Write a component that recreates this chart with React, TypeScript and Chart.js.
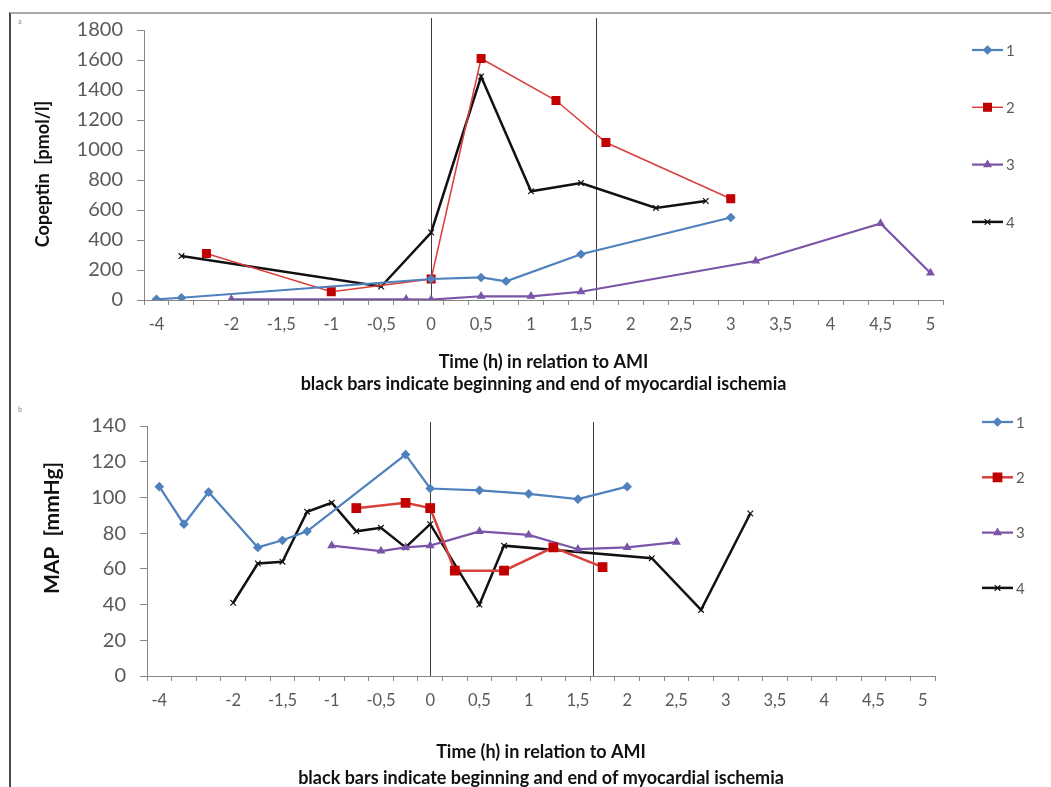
import React, { useEffect, useRef } from 'react';
import { Chart, registerables } from 'chart.js';
import { drawPoint } from 'chart.js/helpers';

Chart.register(...registerables);
Chart.defaults.font.family = "Lato, 'Open Sans', sans-serif";

const _ = null;

// Category axis (Excel-style): one category per time point, only some labelled
const timeLabels = ['-4', '', '', '-2', '', '-1,5', '', '-1', '', '-0,5', '', '0', '', '0,5', '', '1', '', '1,5', '', '2', '', '2,5', '', '3', '', '3,5', '', '4', '', '4,5', '', '5'];

const seriesNames = ['1', '2', '3', '4'];

// a: Copeptin [pmol/l]
const copeptin1 = [5, 15, _, _, _, _, _, _, _, _, _, 140, _, 150, 125, _, _, 305, _, _, _, _, _, 550, _, _, _, _, _, _, _, _];
const copeptin2 = [_, _, 310, _, _, _, _, 55, _, _, _, 140, _, 1610, _, _, 1330, _, 1050, _, _, _, _, 675, _, _, _, _, _, _, _, _];
const copeptin3 = [_, _, _, 5, _, _, _, _, _, _, 5, 3, _, 25, _, 25, _, 55, _, _, _, _, _, _, 260, _, _, _, _, 510, _, 180];
const copeptin4 = [_, 293, _, _, _, _, _, _, _, 90, _, 450, _, 1490, _, 725, _, 780, _, _, 613, _, 660, _, _, _, _, _, _, _, _, _];

// b: MAP [mmHg]
const map1 = [106, 85, 103, _, 72, 76, 81, _, _, _, 124, 105, _, 104, _, 102, _, 99, _, 106, _, _, _, _, _, _, _, _, _, _, _, _];
const map2 = [_, _, _, _, _, _, _, _, 94, _, 97, 94, 59, _, 59, _, 72, _, 61, _, _, _, _, _, _, _, _, _, _, _, _, _];
const map3 = [_, _, _, _, _, _, _, 73, _, 70, 72, 73, _, 81, _, 79, _, 71, _, 72, _, 75, _, _, _, _, _, _, _, _, _, _];
const map4 = [_, _, _, 41, 63, 64, 92, 97, 81, 83, 72, 85, _, 40, 73, _, _, _, _, _, 66, _, 37, _, 91, _, _, _, _, _, _, _];

// beginning and end of myocardial ischemia, as positions on the category axis
const ischemiaBars = [11, 17.6];

const copeptinTicks = { min: 0, max: 1800, step: 200 };
const mapTicks = { min: 0, max: 140, step: 20 };

const xTitle = ['Time (h) in relation to AMI', 'black bars indicate beginning and end of myocardial ischemia'];

const seriesStyles = [
  { color: '#4F81BD', pointColor: '#4F81BD', pointStyle: 'rectRot', radius: 4 },
  { color: '#D9403C', pointColor: '#C00000', pointStyle: 'rect', radius: 5.5 },
  { color: '#7B55A8', pointColor: '#7B55A8', pointStyle: 'triangle', radius: 4 },
  { color: '#111111', pointColor: '#111111', pointStyle: 'crossRot', radius: 4 },
];

const FONT = "Lato, 'Open Sans', sans-serif";

const overlayPlugin = {
  id: 'overlay',
  beforeDatasetsDraw(chart: any, _args: any, opts: any) {
    const { ctx, chartArea } = chart;
    const xs = chart.scales.x;
    ctx.save();
    ctx.strokeStyle = '#3c3c3c';
    ctx.lineWidth = 1;
    for (const pos of opts.bars || []) {
      const px = Math.round(xs.getPixelForValue(pos)) + 0.5;
      ctx.beginPath();
      ctx.moveTo(px, chartArea.top - opts.barOverhang);
      ctx.lineTo(px, chartArea.bottom);
      ctx.stroke();
    }
    ctx.restore();
  },
  afterDraw(chart: any, _args: any, opts: any) {
    const { ctx } = chart;
    // y-axis title
    const t = opts.yTitle;
    ctx.save();
    ctx.translate(t.x, t.y);
    ctx.rotate(-Math.PI / 2);
    ctx.fillStyle = '#111';
    ctx.font = `bold ${t.size}px ${FONT}`;
    ctx.textAlign = 'center';
    ctx.textBaseline = 'middle';
    ctx.fillText(t.text, 0, 0);
    ctx.restore();
    // legend
    chart.data.datasets.forEach((ds: any, i: number) => {
      const y = opts.legendTop + i * opts.legendGap;
      const x0 = opts.legendX;
      ctx.save();
      ctx.strokeStyle = ds.borderColor;
      ctx.lineWidth = ds.borderWidth;
      ctx.beginPath();
      ctx.moveTo(x0, y);
      ctx.lineTo(x0 + 31, y);
      ctx.stroke();
      ctx.fillStyle = ds.pointBackgroundColor;
      ctx.strokeStyle = ds.pointBorderColor;
      ctx.lineWidth = 1.2;
      drawPoint(ctx, { pointStyle: ds.pointStyle, radius: ds.pointRadius, rotation: 0, borderWidth: 1.2 } as any, x0 + 15.5, y);
      ctx.fillStyle = '#595959';
      ctx.font = `15px ${FONT}`;
      ctx.textBaseline = 'middle';
      ctx.textAlign = 'left';
      ctx.fillText(ds.label, x0 + 34, y + 1);
      ctx.restore();
    });
  },
};

type PanelProps = {
  series: (number | null)[][];
  ticks: { min: number; max: number; step: number };
  yTitle: { text: string; x: number; y: number; size: number };
  lineWidths: number[];
  radiusScale: number[];
  pad: { left: number; right: number; top: number; bottom: number };
  yWidth: number;
  xHeight: number;
  titleLineHeight: number;
  barOverhang: number;
  legendX: number;
  legendTop: number;
  legendGap: number;
};

function Panel(p: PanelProps) {
  const ref = useRef<HTMLCanvasElement | null>(null);
  useEffect(() => {
    if (!ref.current) return;
    const datasets = p.series.map((data, i) => {
      const st = seriesStyles[i];
      return {
        label: seriesNames[i],
        data,
        borderColor: st.color,
        backgroundColor: st.color,
        borderWidth: p.lineWidths[i],
        pointStyle: st.pointStyle,
        pointRadius: st.radius * p.radiusScale[i],
        pointBackgroundColor: st.pointColor,
        pointBorderColor: st.pointColor,
        pointBorderWidth: 1.2,
        spanGaps: true,
        tension: 0,
        fill: false,
      };
    });
    const chart = new Chart(ref.current, {
      type: 'line',
      data: { labels: timeLabels, datasets },
      plugins: [overlayPlugin],
      options: {
        responsive: false,
        animation: false,
        events: [],
        layout: { padding: p.pad },
        plugins: {
          legend: { display: false },
          tooltip: { enabled: false },
          overlay: { bars: ischemiaBars, barOverhang: p.barOverhang, legendX: p.legendX, legendTop: p.legendTop, legendGap: p.legendGap, yTitle: p.yTitle },
        } as any,
        scales: {
          x: {
            type: 'category',
            offset: true,
            grid: { offset: true, drawOnChartArea: false, drawTicks: true, tickLength: 5, color: '#868686' },
            border: { display: true, color: '#868686', width: 1 },
            ticks: { autoSkip: false, maxRotation: 0, minRotation: 0, padding: 10, color: '#595959', font: { size: 16.5 } },
            title: {
              display: true,
              text: xTitle,
              color: '#111',
              font: { size: 18, weight: 'bold', lineHeight: p.titleLineHeight / 18 },
              padding: { top: 0, bottom: 0 },
            },
            afterFit: (s: any) => { s.height = p.xHeight; },
          },
          y: {
            min: p.ticks.min,
            max: p.ticks.max,
            grid: { drawOnChartArea: false, drawTicks: true, tickLength: 7, color: '#868686' },
            border: { display: true, color: '#868686', width: 1 },
            ticks: { stepSize: p.ticks.step, padding: 14, color: '#595959', font: { size: 20 }, callback: (v: any) => String(v) },
            title: { display: false },
            afterFit: (s: any) => { s.width = p.yWidth; },
          },
        },
      } as any,
    });
    return () => chart.destroy();
  }, []);
  return <canvas ref={ref} width={1051} height={400} style={{ display: 'block', width: 1051, height: 400 }} />;
}

export default function App() {
  return (
    <div style={{ position: 'absolute', left: 0, top: 0, width: 1051, height: 787, overflow: 'hidden', background: '#fff' }}>
      <div style={{ position: 'absolute', left: 9, top: 12, right: -10, bottom: -10, borderTop: '2px solid #a8a8a8', borderLeft: '2px solid #4a4a4a' }} />
      <span style={{ position: 'absolute', left: 18, top: 17, fontSize: 7, color: '#888', fontFamily: 'Lato, sans-serif' }}>a</span>
      <span style={{ position: 'absolute', left: 18, top: 405, fontSize: 7, color: '#888', fontFamily: 'Lato, sans-serif' }}>b</span>
      <div style={{ position: 'absolute', left: 0, top: 0, width: 1051, height: 400 }}>
        <Panel
          series={[copeptin1, copeptin2, copeptin3, copeptin4]}
          ticks={copeptinTicks}
          yTitle={{ text: 'Copeptin  [pmol/l]', x: 43, y: 174, size: 18 }}
          lineWidths={[2.25, 1.5, 2.25, 2.5]}
          radiusScale={[1, 1, 1, 1]}
          pad={{ left: 33, right: 108, top: 30, bottom: 5 }}
          yWidth={111}
          xHeight={95}
          titleLineHeight={22}
          barOverhang={12}
          legendX={972}
          legendTop={50}
          legendGap={57.3}
        />
      </div>
      <div style={{ position: 'absolute', left: 0, top: 400, width: 1051, height: 400 }}>
        <Panel
          series={[map1, map2, map3, map4]}
          ticks={mapTicks}
          yTitle={{ text: 'MAP  [mmHg]', x: 52, y: 128, size: 21 }}
          lineWidths={[2.25, 2.5, 2.25, 2.5]}
          radiusScale={[1, 1.1, 1, 1]}
          pad={{ left: 42, right: 116, top: 19, bottom: 9 }}
          yWidth={105}
          xHeight={115}
          titleLineHeight={26}
          barOverhang={4}
          legendX={982}
          legendTop={22}
          legendGap={55.3}
        />
      </div>
    </div>
  );
}
